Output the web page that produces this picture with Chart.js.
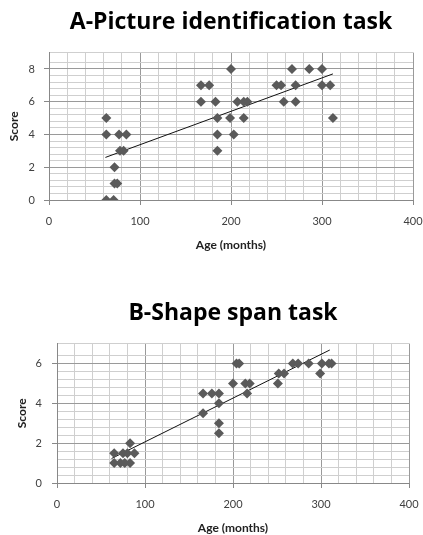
<!DOCTYPE html>
<html>
<head>
<meta charset="utf-8">
<script src="https://cdn.jsdelivr.net/npm/chart.js@4/dist/chart.umd.min.js"></script>
<style>
  body { margin: 0; background: #fff; }
  .box { position: absolute; left: 0; }
</style>
</head>
<body>
<div class="box" style="top:0px"><canvas id="chartA" width="423" height="255"></canvas></div>
<div class="box" style="top:265px"><canvas id="chartB" width="423" height="270"></canvas></div>
<script>
// A - picture identification task (age in months, score)
const picAge   = [63, 63, 77, 85, 78, 82, 72, 72, 75, 63, 71,
                  167, 176, 167, 183, 185, 185, 185, 200, 207, 214, 218, 199, 214, 203,
                  250, 255, 267, 286, 300, 271, 300, 309, 258, 271, 312];
const picScore = [5, 4, 4, 4, 3, 3, 2, 1, 1, 0, 0,
                  7, 7, 6, 6, 5, 4, 3, 8, 6, 6, 6, 5, 5, 4,
                  7, 7, 8, 8, 8, 7, 7, 7, 6, 6, 5];
const picTrendX = [62, 312];
const picTrendY = [2.6, 7.7];

// B - shape span task
const shapeAge   = [65, 65, 72, 75, 77, 80, 83, 83, 88,
                    166, 166, 176, 184, 184, 184, 184, 200, 204, 207, 214, 219, 216,
                    251, 252, 258, 268, 274, 286, 299, 301, 309, 312];
const shapeScore = [1, 1.5, 1, 1.5, 1, 1.5, 1, 2, 1.5,
                    3.5, 4.5, 4.5, 4.5, 4, 3, 2.5, 5, 6, 6, 5, 5, 4.5,
                    5, 5.5, 5.5, 6, 6, 6, 5.5, 6, 6, 6];
const shapeTrendX = [62, 310];
const shapeTrendY = [1.23, 6.68];

// tick labels
const ageTicks = [0, 100, 200, 300, 400];
const picScoreTicks = [0, 2, 4, 6, 8];
const shapeScoreTicks = [0, 2, 4, 6];

Chart.defaults.font.family = 'Lato, "Open Sans", sans-serif';
Chart.defaults.color = '#404040';

const MAJOR = '#9a9a9a', MINOR = '#cfcfcf';
const isIn = (list, v) => list.some(t => Math.abs(t - v) < 1e-6);
const zip = (xs, ys) => xs.map((x, i) => ({ x, y: ys[i] }));

function makeChart(id, cfg) {
  new Chart(document.getElementById(id), {
    type: 'scatter',
    data: {
      datasets: [
        {
          data: zip(cfg.ages, cfg.scores),
          pointStyle: 'rectRot',
          pointRadius: 5,
          pointBackgroundColor: '#5a5a5a',
          pointBorderWidth: 0,
        },
        {
          data: zip(cfg.trendX, cfg.trendY),
          showLine: true,
          borderColor: '#111',
          borderWidth: 1,
          pointRadius: 0,
        }
      ]
    },
    options: {
      responsive: false,
      animation: false,
      layout: { padding: { left: 0, right: cfg.padRight, top: 0, bottom: 0 } },
      plugins: {
        legend: { display: false },
        tooltip: { enabled: false },
        title: {
          display: true,
          fullSize: false,
          text: cfg.title,
          color: '#000',
          font: { family: '"Open Sans", Lato, sans-serif', size: 23, weight: 'bold' },
          padding: cfg.titlePad,
        }
      },
      scales: {
        x: {
          type: 'linear', min: 0, max: 400,
          // fixed height, and let the "400" label hang into the right margin
          afterFit: s => { s.height = cfg.xHeight; s.paddingRight = 0; },
          ticks: {
            stepSize: 20, maxTicksLimit: 100, autoSkip: false, maxRotation: 0,
            font: { size: 11 }, padding: 10,
            callback: v => isIn(ageTicks, v) ? v : ''
          },
          grid: {
            color: c => isIn(ageTicks, c.tick.value) ? MAJOR : MINOR,
            tickColor: c => isIn(ageTicks, c.tick.value) ? '#888' : 'rgba(0,0,0,0)',
            tickLength: 5,
          },
          border: { color: '#888' },
          title: {
            display: true, text: 'Age (months)', color: '#222',
            font: { size: 12, weight: 'bold' }, padding: { top: 0, bottom: cfg.xTitlePad }
          }
        },
        y: {
          min: 0, max: cfg.yMax,
          afterFit: s => { s.width = cfg.yWidth; },
          ticks: {
            stepSize: 0.4, maxTicksLimit: 100, autoSkip: false,
            font: { size: 11 }, padding: cfg.yTickPad,
            callback: v => isIn(cfg.yTicks, v) ? v : ''
          },
          grid: {
            color: c => isIn(cfg.yTicks, c.tick.value) ? MAJOR : MINOR,
            tickColor: c => isIn(cfg.yTicks, c.tick.value) ? '#888' : 'rgba(0,0,0,0)',
            tickLength: 5,
          },
          border: { color: '#888' },
          title: {
            display: true, text: 'Score', color: '#222',
            font: { size: 12, weight: 'bold' }, padding: { top: cfg.yTitlePad, bottom: 0 }
          }
        }
      }
    }
  });
}

makeChart('chartA', {
  title: 'A-Picture identification task',
  ages: picAge, scores: picScore, trendX: picTrendX, trendY: picTrendY,
  yMax: 9, yTicks: picScoreTicks,
  titlePad: { top: 9, bottom: 16 },
  xHeight: 55, xTitlePad: 3, yWidth: 49, padRight: 10,
  yTickPad: 9, yTitlePad: 7,
});

makeChart('chartB', {
  title: 'B-Shape span task',
  ages: shapeAge, scores: shapeScore, trendX: shapeTrendX, trendY: shapeTrendY,
  yMax: 7, yTicks: shapeScoreTicks,
  titlePad: { top: 35, bottom: 16 },
  xHeight: 52, xTitlePad: 0, yWidth: 57, padRight: 14,
  yTickPad: 10, yTitlePad: 15,
});
</script>
</body>
</html>
